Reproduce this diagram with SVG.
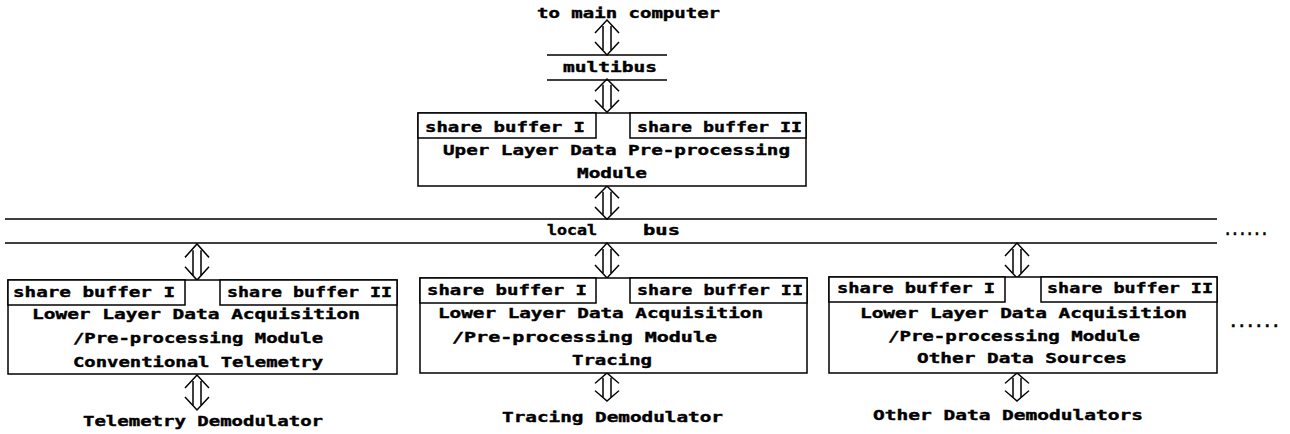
<svg xmlns="http://www.w3.org/2000/svg" width="1290" height="434" viewBox="0 0 1290 434">
<style>
text{font-family:"DejaVu Sans Mono","Liberation Mono",monospace;font-weight:bold;font-size:14px;fill:#000;stroke:#000;stroke-width:0.4}
.b{fill:#fff;stroke:#000;stroke-width:1.5}
.l{stroke:#000;stroke-width:1.5;fill:none}
</style>
<defs>
<g id="arr" class="l"><path d="M-12,13 L0,0 L12,13"/><path d="M-12,-13 L0,0 L12,-13" transform="translate(0,35)"/><path d="M-4,6 V30 M4,6 V30"/></g>
</defs>
<rect width="1290" height="434" fill="#fff"/>
<g id="connectors">
<use href="#arr" transform="translate(607,20)"/>
<use href="#arr" transform="translate(607,79) scale(1,0.95)"/>
<use href="#arr" transform="translate(607,186) scale(1,0.95)"/>
<use href="#arr" transform="translate(197,244) scale(1,1.03)"/>
<use href="#arr" transform="translate(197,375)"/>
<use href="#arr" transform="translate(607,243)"/>
<use href="#arr" transform="translate(607,373) scale(1,0.8)"/>
<use href="#arr" transform="translate(1017,243)"/>
<use href="#arr" transform="translate(1017,373) scale(1,0.8)"/>
</g>
<g id="top">
<text x="537" y="18" textLength="183" lengthAdjust="spacingAndGlyphs">to main computer</text>
</g>
<g id="multibus">
<path class="l" d="M547,55 H667 M547,80 H667"/>
<text x="563" y="72" textLength="94" lengthAdjust="spacingAndGlyphs">multibus</text>
</g>
<g id="upper">
<rect class="b" x="418" y="113" width="388" height="73"/>
<rect class="b" x="418" y="113" width="178" height="25"/>
<rect class="b" x="630" y="113" width="176" height="25"/>
<text x="425" y="132" textLength="160" lengthAdjust="spacingAndGlyphs">share buffer I</text>
<text x="637" y="132" textLength="165" lengthAdjust="spacingAndGlyphs">share buffer II</text>
<text x="443" y="155" textLength="347" lengthAdjust="spacingAndGlyphs">Uper Layer Data Pre-processing</text>
<text x="577" y="178" textLength="70" lengthAdjust="spacingAndGlyphs">Module</text>
</g>
<g id="localbus">
<path class="l" d="M5,219 H1217 M5,243 H1217"/>
<text x="547" y="235" textLength="50" lengthAdjust="spacingAndGlyphs">local</text>
<text x="643" y="235" textLength="37" lengthAdjust="spacingAndGlyphs">bus</text>
<text x="1224" y="235" textLength="44" lengthAdjust="spacingAndGlyphs">......</text>
</g>
<g id="mod1">
<rect class="b" x="8" y="280" width="389" height="94"/>
<rect class="b" x="8" y="280" width="177" height="25"/>
<rect class="b" x="220" y="280" width="177" height="25"/>
<text x="13" y="297" textLength="162" lengthAdjust="spacingAndGlyphs">share buffer I</text>
<text x="227" y="297" textLength="165" lengthAdjust="spacingAndGlyphs">share buffer II</text>
<text x="32" y="319" textLength="328" lengthAdjust="spacingAndGlyphs">Lower Layer Data Acquisition</text>
<text x="73" y="343" textLength="250" lengthAdjust="spacingAndGlyphs">/Pre-processing Module</text>
<text x="73" y="367" textLength="250" lengthAdjust="spacingAndGlyphs">Conventional Telemetry</text>
<text x="83" y="426" textLength="240" lengthAdjust="spacingAndGlyphs">Telemetry Demodulator</text>
</g>
<g id="mod2">
<rect class="b" x="420" y="278" width="387" height="95"/>
<rect class="b" x="420" y="278" width="176" height="25"/>
<rect class="b" x="630" y="278" width="177" height="25"/>
<text x="427" y="295" textLength="160" lengthAdjust="spacingAndGlyphs">share buffer I</text>
<text x="637" y="295" textLength="166" lengthAdjust="spacingAndGlyphs">share buffer II</text>
<text x="438" y="318" textLength="325" lengthAdjust="spacingAndGlyphs">Lower Layer Data Acquisition</text>
<text x="452" y="342" textLength="265" lengthAdjust="spacingAndGlyphs">/Pre-processing Module</text>
<text x="572" y="365" textLength="80" lengthAdjust="spacingAndGlyphs">Tracing</text>
<text x="502" y="422" textLength="221" lengthAdjust="spacingAndGlyphs">Tracing Demodulator</text>
</g>
<g id="mod3">
<rect class="b" x="829" y="277" width="388" height="96"/>
<rect class="b" x="829" y="277" width="176" height="25"/>
<rect class="b" x="1041" y="277" width="176" height="25"/>
<text x="837" y="293" textLength="158" lengthAdjust="spacingAndGlyphs">share buffer I</text>
<text x="1047" y="293" textLength="166" lengthAdjust="spacingAndGlyphs">share buffer II</text>
<text x="860" y="318" textLength="327" lengthAdjust="spacingAndGlyphs">Lower Layer Data Acquisition</text>
<text x="888" y="341" textLength="252" lengthAdjust="spacingAndGlyphs">/Pre-processing Module</text>
<text x="917" y="363" textLength="210" lengthAdjust="spacingAndGlyphs">Other Data Sources</text>
<text x="873" y="420" textLength="270" lengthAdjust="spacingAndGlyphs">Other Data Demodulators</text>
<text x="1229" y="327" textLength="51" lengthAdjust="spacingAndGlyphs">......</text>
</g>
</svg>
